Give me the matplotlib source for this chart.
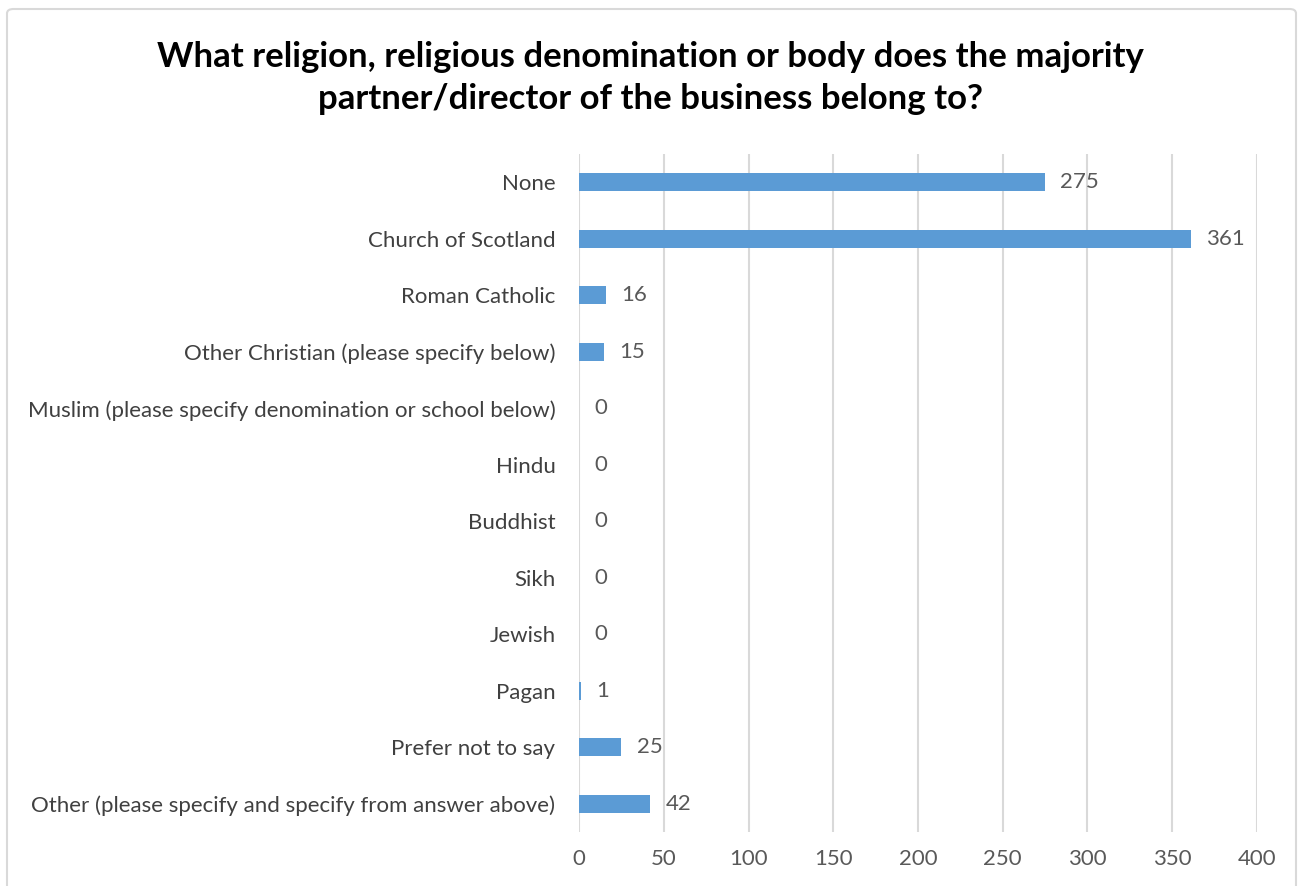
import matplotlib
matplotlib.use("Agg")
import matplotlib.pyplot as plt
from matplotlib.patches import FancyBboxPatch

categories = [
    "None",
    "Church of Scotland",
    "Roman Catholic",
    "Other Christian (please specify below)",
    "Muslim (please specify denomination or school below)",
    "Hindu",
    "Buddhist",
    "Sikh",
    "Jewish",
    "Pagan",
    "Prefer not to say",
    "Other (please specify and specify from answer above)",
]
values = [275, 361, 16, 15, 0, 0, 0, 0, 0, 1, 25, 42]
xticks = [0, 50, 100, 150, 200, 250, 300, 350, 400]
title = "What religion, religious denomination or body does the majority\npartner/director of the business belong to?"

plt.rcParams['font.family'] = ['Lato', 'DejaVu Sans']

W, H = 1301, 886
fig = plt.figure(figsize=(W / 100, H / 100), dpi=100)
fig.patches.append(FancyBboxPatch((7 / W, -0.05), (1289 / W), 1.05 - 9 / H,
                                  boxstyle="round,pad=0,rounding_size=0.005",
                                  transform=fig.transFigure, fill=False,
                                  edgecolor="#D9D9D9", linewidth=1.5))

ax = fig.add_axes([579 / W, 1 - 832 / H, (1257 - 579) / W, (832 - 154) / H])
ypos = list(range(len(categories)))
ax.barh(ypos, values, height=0.32, color="#5B9BD5", zorder=3)
ax.set_ylim(len(categories) - 0.5, -0.5)
ax.set_xlim(0, 400)
ax.set_xticks(xticks)
ax.set_xticklabels([str(t) for t in xticks], color="#595959", fontsize=16)
ax.set_yticks(ypos)
ax.set_yticklabels(categories, color="#404040", fontsize=16)
ax.tick_params(axis='both', length=0)
ax.tick_params(axis='x', pad=12)
ax.tick_params(axis='y', pad=17)
ax.grid(axis='x', color="#D9D9D9", linewidth=1.5, zorder=0)
for s in ax.spines.values():
    s.set_visible(False)

for y, v in zip(ypos, values):
    ax.annotate(str(v), (v, y), xytext=(11, 0), textcoords="offset points",
                va="center", ha="left", color="#595959", fontsize=16)

fig.text(0.5, 1 - 78 / H, title, ha="center", va="center", fontsize=25,
         fontweight="bold", color="#000000", linespacing=1.35)

fig.savefig("out.png", dpi=100)
